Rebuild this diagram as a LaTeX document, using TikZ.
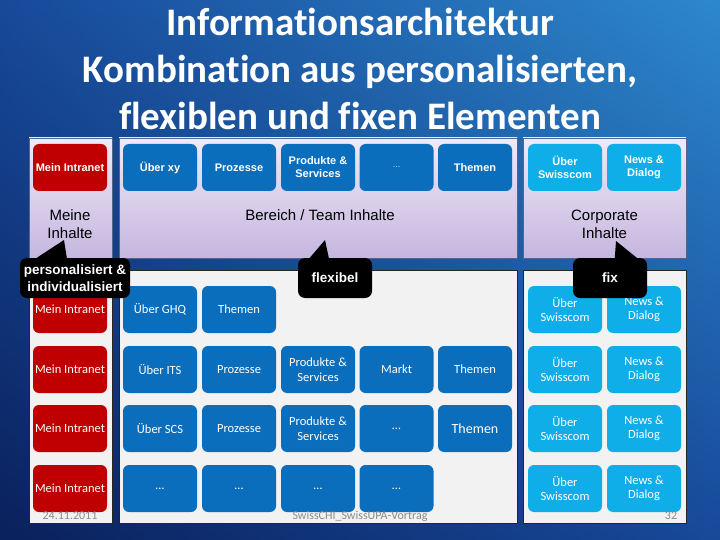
\documentclass[tikz,border=0pt]{standalone}
\usepackage{fontspec}
\setmainfont{Liberation Sans}
\newfontfamily\titelfont[Ligatures=NoCommon]{Carlito}
\usetikzlibrary{positioning,shadings}
\definecolor{bgdunkel}{HTML}{0A215C}
\definecolor{bgmitte}{HTML}{17499A}
\definecolor{bghell}{HTML}{2D88CB}
\definecolor{kachelblau}{HTML}{0A6EBD}
\definecolor{corpblau}{HTML}{10AEE9}
\definecolor{persrot}{HTML}{C00000}
\definecolor{lilaoben}{HTML}{EFEAF8}
\definecolor{lilaunten}{HTML}{C6B6DF}
\definecolor{paneel}{HTML}{F2F2F2}
\definecolor{fussgrau}{HTML}{8A8A8A}
\tikzset{
  kachel/.style={rounded corners=6pt, minimum width=74pt, minimum height=47pt, inner sep=0pt, align=center, text=white},
  fett/.style={font=\bfseries\fontsize{11}{13}\selectfont},
  duenn/.style={font=\titelfont\fontsize{12.5}{14.5}\selectfont},
  inhalt/.style={font=\fontsize{15}{18}\selectfont, align=center, inner sep=0pt},
  blase/.style={fill=black, text=white, rounded corners=7pt, minimum height=40pt, inner sep=0pt, align=center, font=\bfseries\fontsize{13.5}{17}\selectfont},
  fuss/.style={font=\titelfont\fontsize{12}{12}\selectfont, text=fussgrau, inner sep=0pt}
}
\begin{document}
\begin{tikzpicture}[x=1pt,y=-1pt,line join=round]
	\useasboundingbox (0,0) rectangle (720,540);
	\shade[upper left=bgmitte, upper right=bghell, lower left=bgdunkel, lower right=bgmitte] (0,0) rectangle (720,540);
	\node[text=white, align=center, inner sep=0pt, font=\titelfont\bfseries\fontsize{39}{47}\selectfont] (titel) at (360,69)
		{Informationsarchitektur\\Kombination aus personalisierten,\\flexiblen und fixen Elementen};
	% Paneele oben und unten
	\def\oben{138} \def\mitte{258} \def\unten{270} \def\boden{523}
	\foreach \xa/\xb in {29/112,119/517,523/686}
	{\shade[top color=lilaoben, bottom color=lilaunten] (\xa,\oben) rectangle (\xb,\mitte);
		\draw[bgdunkel!70, line width=0.6pt] (\xa,\oben) rectangle (\xb,\mitte);
		\draw[fill=paneel, draw=black!85, line width=0.8pt] (\xa,\unten) rectangle (\xb,\boden);}
	% obere Reihe
	\node[kachel, fett, fill=persrot] (o1) at (70,167.5) {Mein Intranet};
	\foreach \x/\txt [count=\i from 2] in {160/Über xy, 239/Prozesse, 318/{Produkte \&\\Services}, 396.5/{\mdseries\fontsize{8}{8}\selectfont\dots}, 475/Themen}
		\node[kachel, fett, fill=kachelblau] (o\i) at (\x,167.5) {\txt};
	\node[kachel, fett, fill=corpblau] (o7) at (565,167.5) {Über\\Swisscom};
	\node[kachel, fett, fill=corpblau] (o8) at (644,167.5) {News \&\\Dialog};
	\node[inhalt] (meine) at (70,224) {Meine\\Inhalte};
	\node[inhalt] (bereich) at (320,215) {Bereich / Team Inhalte};
	\node[inhalt] (corporate) at (604.5,224) {Corporate\\Inhalte};
	% untere Reihen
	\foreach \y/\r in {309.5/1,369.5/2,428.5/3,488.5/4}
	{\node[kachel, duenn, fill=persrot] (u\r-1) at (70,\y) {Mein Intranet};
		\node[kachel, duenn, fill=corpblau] (u\r-7) at (565,\y) {Über\\Swisscom};
		\node[kachel, duenn, fill=corpblau] (u\r-8) at (644,\y) {News \&\\Dialog};}
	\foreach \x/\txt [count=\i from 2] in {160/Über GHQ, 239/Themen}
		\node[kachel, duenn, fill=kachelblau] (u1-\i) at (\x,309.5) {\txt};
	\foreach \x/\txt [count=\i from 2] in {160/Über ITS, 239/Prozesse, 318/{Produkte \&\\Services}, 396.5/Markt, 475/Themen}
		\node[kachel, duenn, fill=kachelblau] (u2-\i) at (\x,369.5) {\txt};
	\foreach \x/\txt [count=\i from 2] in {160/Über SCS, 239/Prozesse, 318/{Produkte \&\\Services}, 396.5/\dots, 475/{\fontsize{14}{14}\selectfont Themen}}
		\node[kachel, duenn, fill=kachelblau] (u3-\i) at (\x,428.5) {\txt};
	\foreach \x [count=\i from 2] in {160,239,318,396.5}
		\node[kachel, duenn, fill=kachelblau] (u4-\i) at (\x,488.5) {\dots};
	% Fusszeile
	\node[fuss] (datum) at (70,516) {24.11.2011};
	\node[fuss] (vortrag) at (360,516) {SwissCHI\_SwissUPA-Vortrag};
	\node[fuss] (seite) at (671,516) {32};
	% Sprechblasen
	\coordinate (pers-spitze) at (64,240);
	\coordinate (flex-spitze) at (325,240);
	\coordinate (fix-spitze) at (616,241);
	\node[blase, minimum width=110pt] (pers) at (75,278) {personalisiert \&\\individualisiert};
	\node[blase, minimum width=74pt] (flex) at (335,278) {flexibel};
	\node[blase, minimum width=74pt] (fix) at (610,278) {fix};
	\fill ([xshift=17pt]pers.north west) -- (pers-spitze) -- ([xshift=47pt]pers.north west) -- cycle;
	\fill ([xshift=12pt]flex.north west) -- (flex-spitze) -- ([xshift=31pt]flex.north west) -- cycle;
	\fill ([xshift=42pt]fix.north west) -- (fix-spitze) -- ([xshift=64pt]fix.north west) -- cycle;
\end{tikzpicture}
\end{document}
